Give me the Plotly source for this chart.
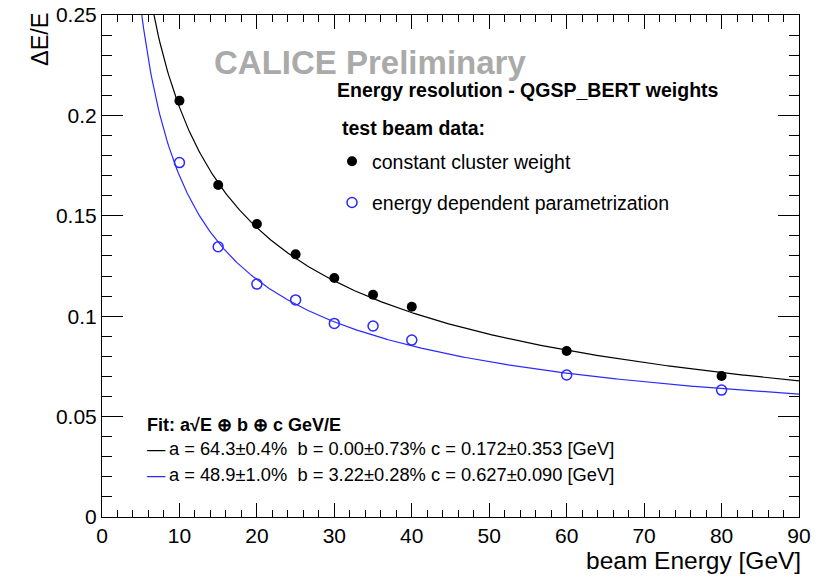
import numpy as np
import plotly.graph_objects as go

# Beam energies [GeV]
energy = [10, 15, 20, 25, 30, 35, 40, 60, 80]

# Relative energy resolution, test beam data
res_const_weight = [0.2073, 0.1653, 0.1459, 0.1308, 0.1190, 0.1107, 0.1047, 0.0827, 0.0702]
res_edep_param = [0.1765, 0.1346, 0.1160, 0.1081, 0.0964, 0.0951, 0.0881, 0.0707, 0.0632]

# Fit parameters: a (stochastic, fraction), b (constant, fraction), c (noise, GeV)
fit_const = dict(a=0.643, b=0.0000, c=0.172)
fit_edep = dict(a=0.489, b=0.0322, c=0.627)

FONT = "Liberation Sans, Arial, Helvetica, sans-serif"
BLACK = "#000000"
BLUE = "#2a2aff"


def resolution(e, a, b, c):
    e = np.asarray(e, dtype=float)
    return np.sqrt((a / np.sqrt(e)) ** 2 + b ** 2 + (c / e) ** 2)


e_grid = np.linspace(2.0, 90.0, 600)

fig = go.Figure()

fig.add_trace(go.Scatter(
    x=e_grid, y=resolution(e_grid, **fit_const), mode="lines",
    line=dict(color=BLACK, width=1.2), showlegend=False, hoverinfo="skip"))
fig.add_trace(go.Scatter(
    x=e_grid, y=resolution(e_grid, **fit_edep), mode="lines",
    line=dict(color=BLUE, width=1.2), showlegend=False, hoverinfo="skip"))

fig.add_trace(go.Scatter(
    x=energy, y=res_const_weight, mode="markers",
    name="constant cluster weight", legendgroup="g1",
    marker=dict(symbol="circle", size=10, color=BLACK)))
fig.add_trace(go.Scatter(
    x=energy, y=res_edep_param, mode="markers",
    name="energy dependent parametrization", legendgroup="g2",
    marker=dict(symbol="circle-open", size=10, color=BLUE,
                line=dict(width=1.5, color=BLUE))))

axis_common = dict(
    showgrid=False, zeroline=False, showline=True, linecolor=BLACK, linewidth=1,
    mirror="allticks", ticks="inside", tickcolor=BLACK, tickwidth=1, automargin=False,
    tickfont=dict(family=FONT, size=21, color=BLACK),
)

fig.update_xaxes(range=[0, 90], dtick=10, tick0=0, ticklen=14,
                 minor=dict(dtick=2, ticklen=7, ticks="inside", tickcolor=BLACK),
                 **axis_common)
fig.update_yaxes(range=[0, 0.25], dtick=0.05, tick0=0, ticklen=21,
                 minor=dict(dtick=0.01, ticklen=10, ticks="inside", tickcolor=BLACK),
                 **axis_common)

annotations = [
    dict(text="<b>CALICE Preliminary</b>", x=0.3845, y=0.906, xanchor="center", yanchor="middle",
         font=dict(family=FONT, size=33, color="#aaaaaa")),
    dict(text="<b>Energy resolution - QGSP_BERT weights</b>", x=0.334, y=0.8506,
         xanchor="left", yanchor="middle", font=dict(family=FONT, size=19.5, color=BLACK)),
    dict(text="<b>test beam data:</b>", x=0.341, y=0.775,
         xanchor="left", yanchor="middle", font=dict(family=FONT, size=19.5, color=BLACK)),
    dict(text="ΔE/E", x=-0.089, y=0.952, xanchor="center", yanchor="middle", textangle=-90,
         font=dict(family=FONT, size=23.5, color=BLACK)),
    dict(text="beam Energy [GeV]", x=1.006, y=-0.0876, xanchor="right", yanchor="middle",
         font=dict(family=FONT, size=24.5, color=BLACK)),
    dict(text="<b>Fit: a√E ⊕ b ⊕ c GeV/E</b>", x=0.0617, y=0.1833, xanchor="left", yanchor="middle",
         font=dict(family=FONT, size=18, color=BLACK)),
    dict(text=f"<span style='color:{BLACK}'>—</span>\u2009a = 64.3±0.4%\u00a0\u00a0b = 0.00±0.73% c = 0.172±0.353 [GeV]",
         x=0.0617, y=0.1355, xanchor="left", yanchor="middle",
         font=dict(family=FONT, size=18.3, color=BLACK)),
    dict(text=f"<span style='color:{BLUE}'>—</span>\u2009a = 48.9±1.0%\u00a0\u00a0b = 3.22±0.28% c = 0.627±0.090 [GeV]",
         x=0.0617, y=0.0837, xanchor="left", yanchor="middle",
         font=dict(family=FONT, size=18.3, color=BLACK)),
]
for ann in annotations:
    fig.add_annotation(xref="paper", yref="paper", showarrow=False, **ann)

fig.update_layout(
    width=819, height=579,
    margin=dict(l=102, r=20, t=15, b=62, autoexpand=False),
    paper_bgcolor="white", plot_bgcolor="white",
    font=dict(family=FONT, color=BLACK),
    legend=dict(
        x=0.33, y=0.747, xanchor="left", yanchor="top",
        bgcolor="rgba(0,0,0,0)", borderwidth=0,
        font=dict(family=FONT, size=19.5, color=BLACK),
        traceorder="grouped", tracegroupgap=13,
    ),
)

fig.write_html("out.html")
